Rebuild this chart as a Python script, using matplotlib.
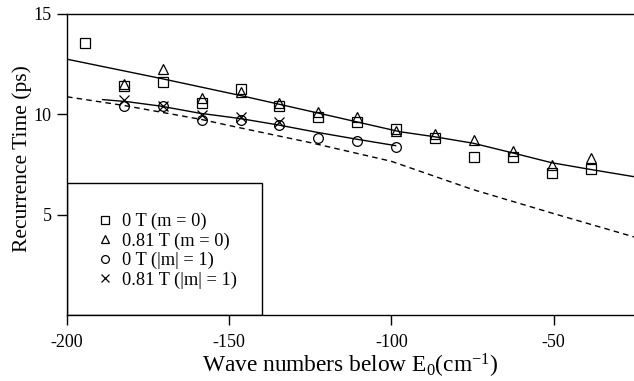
import matplotlib as mpl
mpl.use('Agg')
from matplotlib import pyplot as plt
from matplotlib.patches import Rectangle
import numpy as np

plt.rcParams['font.family'] = ['Liberation Serif', 'DejaVu Serif']
plt.rcParams['mathtext.fontset'] = 'custom'
plt.rcParams['mathtext.rm'] = 'Liberation Serif'
plt.rcParams['mathtext.it'] = 'Liberation Serif:italic'
plt.rcParams['axes.unicode_minus'] = False

# measured recurrence times
x_sq = [-194.5, -182.5, -170.5, -158.5, -146.5, -134.5, -122.5, -110.5, -98.5,
        -86.5, -74.5, -62.5, -50.5, -38.5]
y_sq = [13.57, 11.4, 11.62, 10.56, 11.25, 10.42, 9.86, 9.61, 9.28,
        8.81, 7.90, 7.87, 7.11, 7.27]
x_tri = [-182.5, -170.5, -158.5, -146.5, -134.5, -122.5, -110.5, -98.5,
         -86.5, -74.5, -62.5, -50.5, -38.5]
y_tri = [11.5, 12.25, 10.84, 11.12, 10.59, 10.14, 9.89, 9.2,
         9.03, 8.73, 8.20, 7.49, 7.82]
x_circ = [-182.5, -170.5, -158.5, -146.5, -134.5, -122.5, -110.5, -98.5]
y_circ = [10.42, 10.42, 9.73, 9.73, 9.48, 8.82, 8.68, 8.40]
x_x = [-182.5, -170.5, -158.5, -146.5, -134.5]
y_x = [10.72, 10.42, 9.98, 9.89, 9.64]

# model curves
x_fit0 = [-200, -171.3, -146.7, -122, -97.3, -87, -74.8, -62.9, -50.6, -38.8, -25]
y_fit0 = [12.75, 11.8, 10.95, 10.05, 9.14, 8.9, 8.57, 8.1, 7.6, 7.27, 6.9]
x_fit1 = [-189, -181.6, -171.3, -159, -146.7, -134.9, -122.5, -110.7, -98.7]
y_fit1 = [10.74, 10.64, 10.42, 10.06, 9.8, 9.48, 9.1, 8.77, 8.45]
x_dash = [-200, -182.5, -158.5, -150, -125, -100, -75, -50, -25]
y_dash = [10.88, 10.45, 9.75, 9.45, 8.6, 7.67, 6.27, 5.07, 3.9]

fig = plt.figure(figsize=(6.34, 3.81), dpi=100)
ax = fig.add_axes([0.1057, 0.172, 0.8943, 0.7913])

ax.plot(x_fit0, y_fit0, color='black', linewidth=1.0)
ax.plot(x_fit1, y_fit1, color='black', linewidth=1.0)
ax.plot(x_dash, y_dash, color='black', linewidth=1.0, linestyle=(0, (4, 3)))

mk = dict(linestyle='none', color='black', markerfacecolor='none', markeredgewidth=0.9)
ax.plot(x_sq, y_sq, marker='s', markersize=6.5, label='0 T (m = 0)', **mk)
ax.plot(x_tri, y_tri, marker='^', markersize=7.5, label='0.81 T (m = 0)', **mk)
ax.plot(x_circ, y_circ, marker='o', markersize=7, label='0 T (|m| = 1)', **mk)
ax.plot(x_x, y_x, marker='x', markersize=7, label='0.81 T (|m| = 1)', **mk)

# legend box
ax.add_patch(Rectangle((-200, 0), 60, 6.6, fill=False, edgecolor='black', linewidth=1.0, zorder=3))
ax.legend(loc='center left', bbox_to_anchor=(0.04, 0.214), frameon=False, fontsize=13.2,
          borderpad=0, handlelength=0.7, handletextpad=0.55, labelspacing=0.12,
          markerscale=0.8)

ax.set_xlim(-200, -25.2)
ax.set_ylim(0, 15)
ax.set_xticks([-200, -150, -100, -50])
ax.set_yticks([5, 10, 15])
ax.tick_params(direction='out', length=7, width=1.0, labelsize=13)
ax.tick_params(axis='x', pad=6)
ax.tick_params(axis='y', pad=4)
ax.spines['right'].set_visible(False)
for s in ['left', 'bottom', 'top']:
    ax.spines[s].set_linewidth(1.0)

ax.set_xlabel(r'Wave numbers below E$_{\mathrm{0}}$(cm$^{\mathrm{-1}}$)', fontsize=16.8, labelpad=1)
ax.set_ylabel('Recurrence Time (ps)', fontsize=15.5, labelpad=1)
ax.yaxis.set_label_coords(-0.062, 0.52)

fig.savefig('out.png', dpi=100)
